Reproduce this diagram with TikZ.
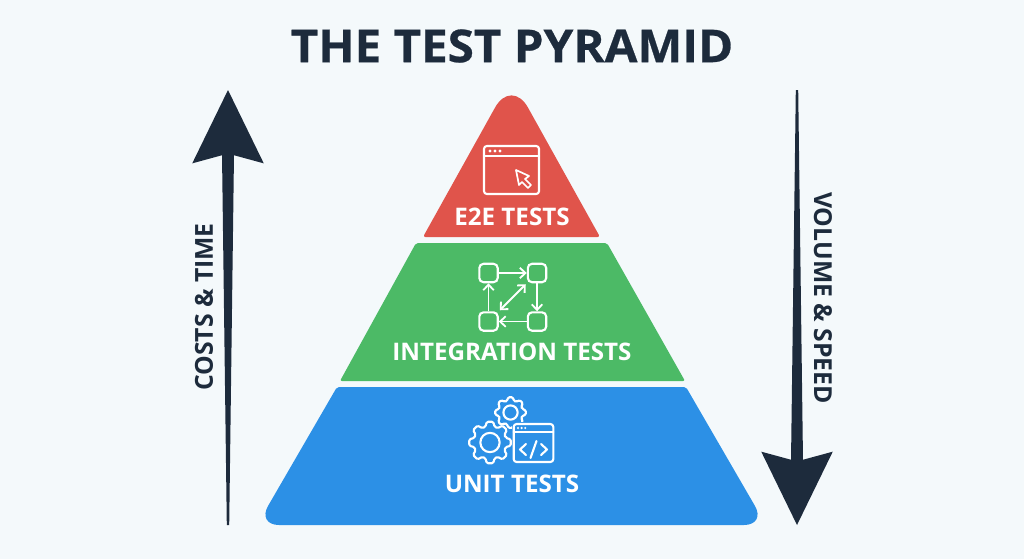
\documentclass[tikz,border=0pt]{standalone}
\usepackage{fontspec}
\setmainfont{Open Sans}
\newfontfamily\titlefont[BoldFeatures={FakeBold=0.6,FakeStretch=1.05}]{Open Sans}
\usetikzlibrary{positioning,calc,arrows.meta}

\definecolor{pagebg}{HTML}{F4F9FB}
\definecolor{ink}{HTML}{1D2B3C}
\definecolor{e2ered}{HTML}{E0544B}
\definecolor{intgreen}{HTML}{4CBA66}
\definecolor{unitblue}{HTML}{2C90E6}

\tikzset{
  layerlabel/.style={text=white,font=\bfseries\fontsize{17.2}{17.2}\selectfont,inner sep=0pt},
  sidelabel/.style={text=ink,font=\bfseries\fontsize{17.6}{17.6}\selectfont,inner sep=0pt},
  icon/.style={draw=white,line width=1.5pt,line join=round,line cap=round},
  flowbox/.style={draw=white,line width=1.5pt,rounded corners=3pt,minimum size=0.46cm,inner sep=0pt},
  flowarrow/.style={draw=white,line width=1.3pt,-{Straight Barb[length=4pt,width=7.5pt]}},
  flowboth/.style={flowarrow,{Straight Barb[length=4pt,width=7.5pt]}-{Straight Barb[length=4pt,width=7.5pt]}},
  bigarrow/.style={draw=ink,line width=1.2pt,-{Stealth[length=1.83cm,width=1.78cm,inset=0.24cm]}},
  gearicon/.pic={
    \draw[icon,rounded corners=1pt] (-16:0.78) \foreach \a in {0,45,...,315} {
      -- (\a-16:0.78) -- (\a-9:1) -- (\a+9:1) -- (\a+16:0.78) } -- cycle;
    \draw[icon] (0,0) circle (0.46);
  },
  windowicon/.pic={
    \draw[icon,rounded corners=2pt] (-27.5,-24) rectangle (27.5,24);
    \draw[icon] (-27.5,-14) -- (27.5,-14);
    \foreach \d in {-21.5,-16.5,-11.5}
      \fill[white] (\d,-19) circle (1.6);
  }
}

\begin{document}
\begin{tikzpicture}[x=0.025cm,y=-0.025cm]
  \useasboundingbox[fill=pagebg] (0,0) rectangle (1024,559);

  \node[text=ink,font=\titlefont\bfseries\fontsize{32.2}{32.2}\selectfont,inner sep=0pt] (title) at (512,46) {THE TEST PYRAMID};

  % the three layers
  \fill[e2ered,rounded corners=0.06cm] (423,237) -- (600,237) [rounded corners=0.85cm] -- (511.5,78) [rounded corners=0.06cm] -- cycle;
  \fill[intgreen,rounded corners=0.05cm] (416,243) -- (607,243) -- (685,381) -- (340,381) -- cycle;
  \fill[unitblue,rounded corners=0.05cm] (337,387) -- (686,387) [rounded corners=0.55cm] -- (766,525) -- (257,525) [rounded corners=0.05cm] -- cycle;

  \node[layerlabel] (e2e) at (512,217) {E2E TESTS};
  \node[layerlabel] (integration) at (512,352) {INTEGRATION TESTS};
  \node[layerlabel] (unit) at (512,484) {UNIT TESTS};

  % browser with cursor
  \pic at (511.5,170) {windowicon};
  \draw[icon,line width=1.2pt] (516,170) -- (529,176) -- (525,179) -- (531,185) -- (528,188) -- (522,182) -- (519,185) -- cycle;

  % flow boxes
  \node[flowbox] (tl) at (488.5,273) {};
  \node[flowbox,right=0.7cm of tl] (tr) {};
  \node[flowbox,below=0.7cm of tl] (bl) {};
  \node[flowbox,right=0.7cm of bl] (br) {};
  \draw[flowarrow] (tl) -- (tr);
  \draw[flowarrow] (tr) -- (br);
  \draw[flowarrow] (br) -- (bl);
  \draw[flowarrow] (bl) -- (tl);
  \draw[flowboth,shorten >=1pt,shorten <=1pt] (tr.south west) -- (bl.north east);

  % gears and code window
  \pic[scale=21] at (490,442.5) {gearicon};
  \pic[scale=15.5] at (510.5,412.5) {gearicon};
  \fill[unitblue] (512,422) rectangle (555,464);
  \pic[xscale=0.72,yscale=0.79] at (533.5,443) {windowicon};
  \draw[icon] (526,444) -- (520,449.5) -- (526,455);
  \draw[icon] (541,444) -- (547,449.5) -- (541,455);
  \draw[icon] (536.5,441) -- (530.5,458);

  % side arrows
  \coordinate (costsfoot) at (228,525);
  \coordinate (coststip) at (228,90);
  \coordinate (volumefoot) at (797,90);
  \coordinate (volumetip) at (797,525);
  \fill[ink] ($(costsfoot)+(-1.2,0)$) -- ($(coststip)+(-6,64)$) -- ($(coststip)+(6,64)$) -- ($(costsfoot)+(1.2,0)$) -- cycle;
  \fill[ink] ($(volumefoot)+(-1.2,0)$) -- ($(volumetip)+(-6,-64)$) -- ($(volumetip)+(6,-64)$) -- ($(volumefoot)+(1.2,0)$) -- cycle;
  \draw[bigarrow] (costsfoot) -- (coststip);
  \draw[bigarrow] (volumefoot) -- (volumetip);

  \node[sidelabel,rotate=90] (costs) at (204,307) {COSTS \& TIME};
  \node[sidelabel,rotate=-90] (volume) at (823,298) {VOLUME \& SPEED};
\end{tikzpicture}
\end{document}
